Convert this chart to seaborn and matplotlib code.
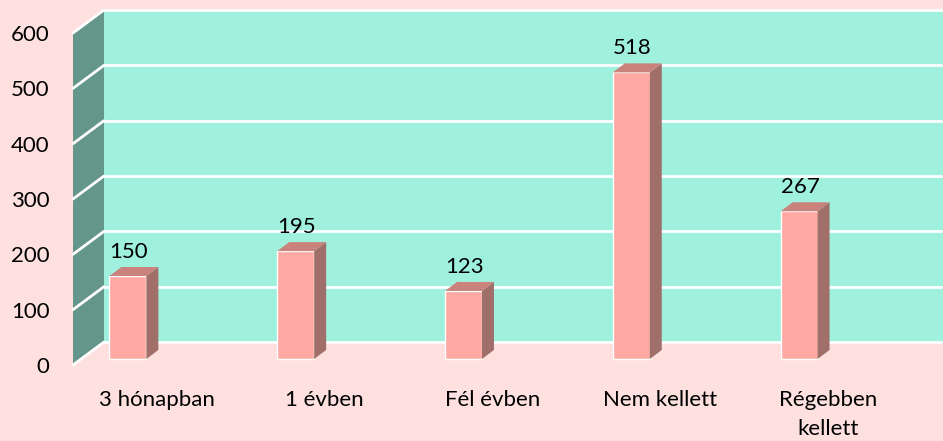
import numpy as np
import seaborn as sns
import matplotlib.pyplot as plt
from matplotlib.patches import Polygon
from matplotlib.transforms import offset_copy

categories = ['3 hónapban', '1 évben', 'Fél évben', 'Nem kellett', 'Régebben\nkellett']
values = [150, 195, 123, 518, 267]
yticks = [0, 100, 200, 300, 400, 500, 600]

bg = '#fee1df'
wall = '#9ff1dd'
side_wall = '#64968a'
bar_front = '#ffa9a2'
bar_top = '#c9827c'
bar_side = '#a06f69'

sns.set_style('white')
plt.rcParams['font.family'] = ['Lato', 'DejaVu Sans']

W, H = 943, 441
fig = plt.figure(figsize=(W / 100, H / 100), dpi=100, facecolor=bg)

# pixel geometry of the front plane and the depth shift to the back wall
fx0, fx1, fy0, fy1 = 73, 912, 365, 33
depth_px = (31, 23)
px_per_x = (fx1 - fx0) / 5
px_per_y = (fy0 - fy1) / 600

back = fig.add_axes([(fx0 + depth_px[0]) / W, (H - fy0 + depth_px[1]) / H,
                     (fx1 - fx0) / W, (fy0 - fy1) / H])
back.set_facecolor(wall)
back.set_xlim(-0.5, 4.5)
back.set_ylim(0, 600)
back.set_xticks([])
back.set_yticks(yticks[1:-1])
back.tick_params(length=0, labelleft=False)
back.grid(axis='y', color='white', lw=2)
for s in ['left', 'right']:
    back.spines[s].set_visible(False)
for s in ['top', 'bottom']:
    back.spines[s].set_color('white')
    back.spines[s].set_linewidth(2)

ax = fig.add_axes([fx0 / W, (H - fy0) / H, (fx1 - fx0) / W, (fy0 - fy1) / H])
ax.patch.set_alpha(0)

sns.barplot(x=categories, y=values, color=bar_front, saturation=1, width=0.22, ax=ax, zorder=3)
bars = list(ax.patches)

# left side wall
DX = depth_px[0] / px_per_x
DY = depth_px[1] / px_per_y
ax.add_patch(Polygon([(-0.5, 0), (-0.5, 600), (-0.5 + DX, 600 + DY), (-0.5 + DX, DY)],
                     closed=True, fc=side_wall, ec='none', clip_on=False, zorder=0))
for v in yticks:
    ax.plot([-0.5, -0.5 + DX], [v, v + DY], color='white', lw=2, clip_on=False, zorder=1)

bar_tr = offset_copy(ax.transData, fig=fig, x=-29, y=6, units='dots')
bdx = 12 / px_per_x
bdy = 9 / px_per_y
for p, v in zip(bars, values):
    p.set_transform(bar_tr)
    p.set_clip_on(False)
    x, w, h = p.get_x(), p.get_width(), p.get_height()
    ax.add_patch(Polygon([(x + w, 0), (x + w, h), (x + w + bdx, h + bdy), (x + w + bdx, bdy)],
                         closed=True, fc=bar_side, ec='none', transform=bar_tr,
                         clip_on=False, zorder=3))
    ax.add_patch(Polygon([(x, h), (x + w, h), (x + w + bdx, h + bdy), (x + bdx, h + bdy)],
                         closed=True, fc=bar_top, ec='none', transform=bar_tr,
                         clip_on=False, zorder=3))
    ax.annotate(str(v), (x + w / 2, h + bdy), xycoords=bar_tr,
                xytext=(1, 5), textcoords='offset pixels', ha='center', va='bottom',
                fontsize=16, color='black')

ax.set_xlim(-0.5, 4.5)
ax.set_ylim(0, 600)
ax.set_yticks(yticks)
ax.set_ylabel('')
ax.tick_params(axis='both', length=0, labelsize=16, colors='black')
ax.tick_params(axis='y', pad=17)
ax.tick_params(axis='x', pad=18)
for lab in ax.get_xticklabels():
    lab.set_linespacing(1.55)
    lab.set_va('top')
sns.despine(ax=ax, left=True, bottom=True)

fig.savefig('out.png', dpi=100, facecolor=bg)
